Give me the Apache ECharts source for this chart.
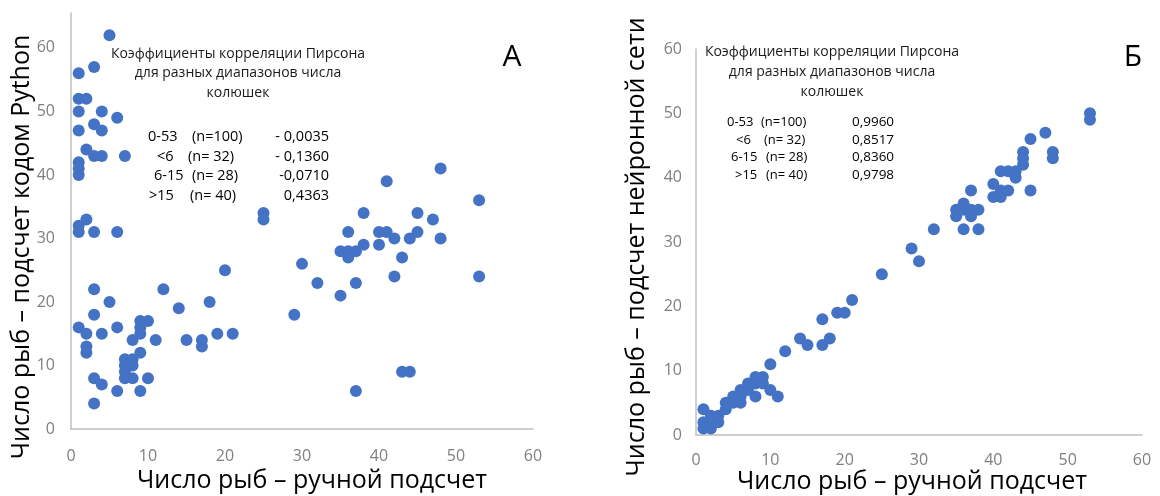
<!DOCTYPE html>
<html>
<head>
<meta charset="utf-8">
<script src="https://cdn.jsdelivr.net/npm/echarts@6/dist/echarts.min.js"></script>
<style>
html,body{margin:0;padding:0;background:#fff;}
#chart{width:1160px;height:496px;}
</style>
</head>
<body>
<div id="chart"></div>
<script>
// ---- Data ----
const xTicks = [0, 10, 20, 30, 40, 50, 60];
const yTicks = [0, 10, 20, 30, 40, 50, 60];

// Panel A: manual count vs Python code count
const panelAPoints = [
  [1,56],[1,52],[1,50],[1,47],[1,42],[1,41],[1,40],[1,32],[1,31],[1,16],
  [2,52],[2,44],[2,33],[2,15],[2,13],[2,12],
  [3,57],[3,48],[3,43],[3,31],[3,22],[3,18],[3,8],[3,4],
  [4,50],[4,47],[4,43],[4,15],[4,7],
  [5,62],[5,20],
  [6,49],[6,31],[6,16],[6,6],
  [7,43],[7,11],[7,10],[7,9],[7,8],
  [8,14],[8,11],[8,10],[8,8],
  [9,17],[9,16],[9,15],[9,12],[9,6],
  [10,17],[10,8],
  [11,14],[12,22],[14,19],[15,14],[17,14],[17,13],[18,20],[19,15],[20,25],[21,15],
  [25,34],[25,33],[29,18],[30,26],[32,23],[35,28],[35,21],[36,31],[36,28],[36,27],
  [37,28],[37,23],[37,6],[38,34],[38,29],[40,31],[40,29],[41,39],[41,31],[42,30],
  [42,24],[43,27],[43,9],[44,30],[44,9],[45,34],[45,31],[47,33],[48,41],[48,30],
  [53,36],[53,24]
];

// Panel B: manual count vs neural network count
const panelBPoints = [
  [1,4],[1,2],[1,1],[2,2],[2,1],[3,3],[3,2],[2,3],[4,5],[4,4],[5,5],[5,6],
  [6,7],[6,6],[6,5],[7,7],[7,8],[8,8],[8,9],[8,6],[9,9],[9,8],[10,7],[10,11],
  [11,6],[12,13],[14,15],[15,14],[17,18],[17,14],[18,15],[19,19],[20,19],[21,21],
  [25,25],[29,29],[30,27],[32,32],[35,35],[35,34],[36,36],[36,35],[36,32],
  [37,38],[37,35],[37,34],[38,35],[38,32],[40,39],[40,37],[41,41],[41,38],[41,37],
  [42,41],[42,38],[43,41],[43,40],[44,44],[44,43],[44,42],[45,46],[45,38],
  [47,47],[48,44],[48,43],[53,50],[53,49]
];

const titleLines = ['Коэффициенты корреляции Пирсона', 'для разных диапазонов числа', 'колюшек'];
const rangeLabels = ['0-53', '<6', '6-15', '>15'];
const nLabels = ['(n=100)', '(n= 32)', '(n= 28)', '(n= 40)'];
const coefA = ['- 0,0035', '- 0,1360', '-0,0710', '0,4363'];
const coefB = ['0,9960', '0,8517', '0,8360', '0,9798'];
const xTitle = 'Число рыб – ручной подсчет';
const yTitleA = 'Число рыб – подсчет кодом Python';
const yTitleB = 'Число рыб – подсчет нейронной сети';

// ---- Chart ----
const FONT = '"Open Sans", "Noto Sans", sans-serif';
const axisLineStyle = { color: '#bfbfbf', width: 1.5 };
const labelStyle = { color: '#7f7f7f', fontSize: 16, fontFamily: FONT };
const tickFmt = v => (xTicks.indexOf(v) >= 0 ? String(v) : '');
const yFmt = v => (yTicks.indexOf(v) >= 0 ? String(v) : '');

function txt(text, x, y, size, align, color) {
  return {
    type: 'text', x: x, y: y, silent: true,
    style: { text: text, x: 0, y: 0, font: size + 'px ' + FONT, fill: color || '#000',
      align: align, textAlign: align, verticalAlign: 'middle', textVerticalAlign: 'middle' }
  };
}

const graphics = [];
// Panel A annotation
titleLines.forEach((t, i) => graphics.push(txt(t, 238, [54, 73, 93][i], 14, 'center', '#1a1a1a')));
const rowYA = [137, 157, 176, 196];
const rangeXA = [148, 157, 154, 149];
const nXA = [192, 188, 192, 190];
rangeLabels.forEach((t, i) => {
  graphics.push(txt(t, rangeXA[i], rowYA[i], 14.5, 'left'));
  graphics.push(txt(nLabels[i], nXA[i], rowYA[i], 14.5, 'left'));
  graphics.push(txt(coefA[i], 329, rowYA[i], 14.5, 'right'));
});
graphics.push(txt('А', 512, 57, 30, 'center'));

// Panel B annotation
titleLines.forEach((t, i) => graphics.push(txt(t, 832, [52, 72, 92][i], 14, 'center', '#1a1a1a')));
const rowYB = [122, 140, 157, 175];
const rangeXB = [727, 736, 731, 735];
const nXB = [761, 764, 766, 766];
rangeLabels.forEach((t, i) => {
  graphics.push(txt(t, rangeXB[i], rowYB[i], 13, 'left'));
  graphics.push(txt(nLabels[i], nXB[i], rowYB[i], 13, 'left'));
  graphics.push(txt(coefB[i], 852, rowYB[i], 13.5, 'left'));
});
graphics.push(txt('Б', 1133, 57, 30, 'center'));

// Axis titles
graphics.push(txt(xTitle, 312, 481, 25, 'center'));
graphics.push(txt(xTitle, 912, 482, 25, 'center'));
const yA = txt(yTitleA, 22, 247, 25, 'center'); yA.rotation = Math.PI / 2; graphics.push(yA);
const yB = txt(yTitleB, 637, 247, 25, 'center'); yB.rotation = Math.PI / 2; graphics.push(yB);

function xAxisCfg(gi, margin) {
  return {
    type: 'value', gridIndex: gi, min: 0, max: 60, interval: 10,
    axisLine: { show: true, lineStyle: axisLineStyle }, axisTick: { show: false },
    splitLine: { show: false },
    axisLabel: Object.assign({ margin: margin, formatter: tickFmt }, labelStyle)
  };
}
function yAxisCfg(gi, max, margin) {
  return {
    type: 'value', gridIndex: gi, min: 0, max: max, interval: 10,
    axisLine: { show: true, lineStyle: axisLineStyle }, axisTick: { show: false },
    splitLine: { show: false },
    axisLabel: Object.assign({ margin: margin, formatter: yFmt, showMaxLabel: true }, labelStyle)
  };
}

const chart = echarts.init(document.getElementById('chart'), null, { renderer: 'canvas' });
chart.setOption({
  animation: false,
  backgroundColor: '#ffffff',
  grid: [
    { left: 71, top: 13, width: 462, height: 416 },
    { left: 696, top: 49, width: 446, height: 386 }
  ],
  xAxis: [xAxisCfg(0, 19), xAxisCfg(1, 17)],
  yAxis: [yAxisCfg(0, 65.5, 16), yAxisCfg(1, 60, 14)],
  series: [
    { type: 'scatter', xAxisIndex: 0, yAxisIndex: 0, data: panelAPoints, symbolSize: 12,
      itemStyle: { color: '#4472c4', opacity: 1 } },
    { type: 'scatter', xAxisIndex: 1, yAxisIndex: 1, data: panelBPoints, symbolSize: 12,
      itemStyle: { color: '#4472c4', opacity: 1 } }
  ],
  graphic: graphics
});
</script>
</body>
</html>
